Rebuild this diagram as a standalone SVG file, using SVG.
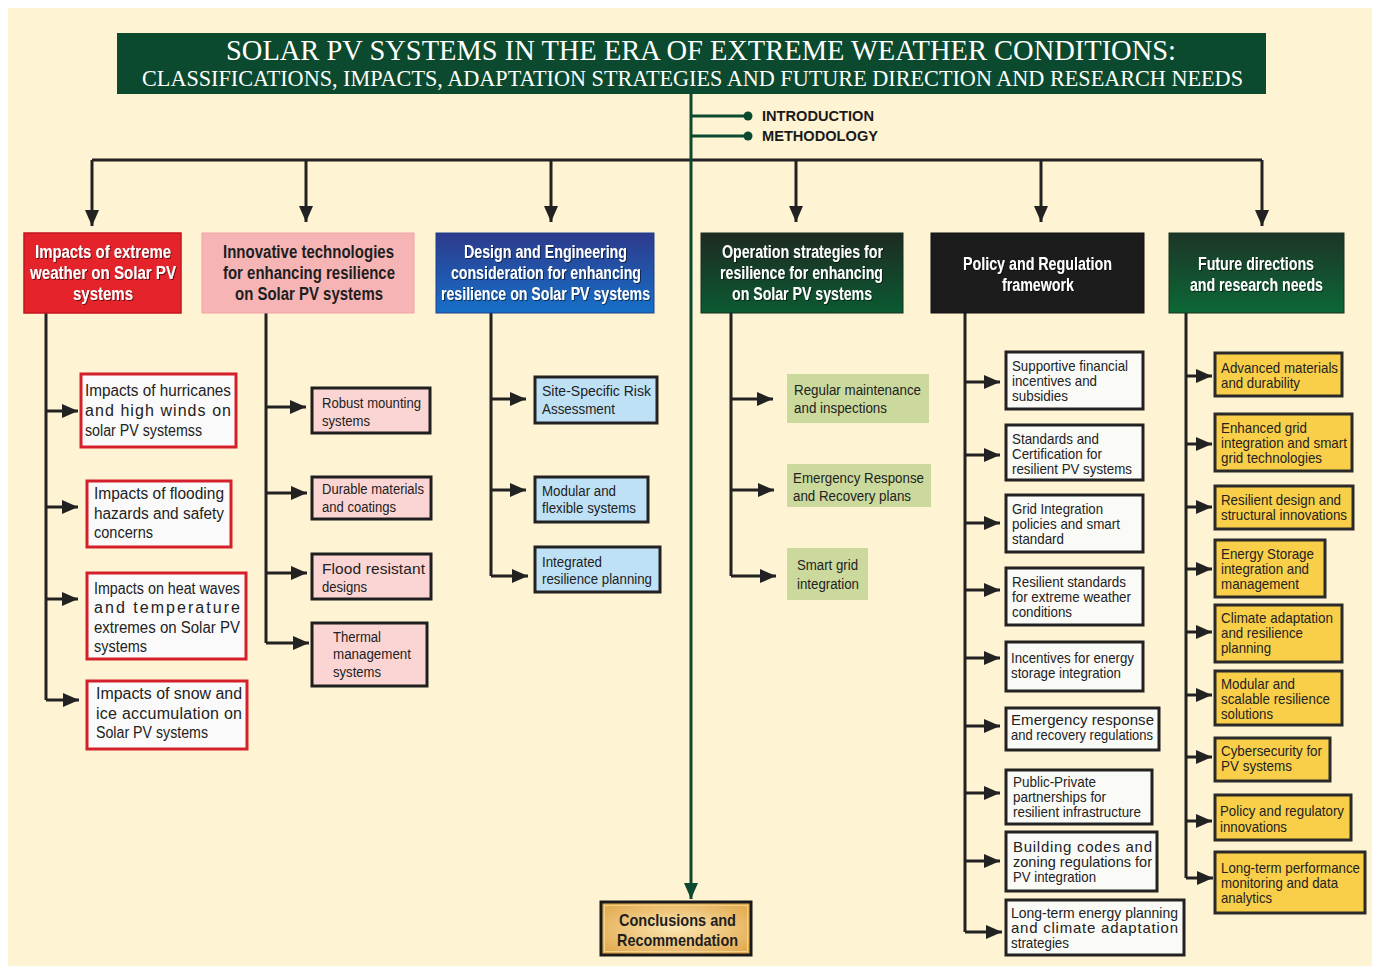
<svg xmlns="http://www.w3.org/2000/svg" width="1380" height="971" viewBox="0 0 1380 971">
  <defs>
    <marker id="arr" markerUnits="userSpaceOnUse" markerWidth="17" markerHeight="14" refX="16" refY="7" orient="auto">
      <path d="M0,0 L16,7 L0,14 Z" fill="#222"/>
    </marker>
    <marker id="arrG" markerUnits="userSpaceOnUse" markerWidth="17" markerHeight="14" refX="16" refY="7" orient="auto">
      <path d="M0,0 L16,7 L0,14 Z" fill="#0b4a2e"/>
    </marker>
    <linearGradient id="gBlue" x1="0" y1="0" x2="0" y2="1">
      <stop offset="0" stop-color="#2d3a8c"/>
      <stop offset="1" stop-color="#1670c8"/>
    </linearGradient>
    <linearGradient id="gOps" x1="0" y1="0" x2="0" y2="1">
      <stop offset="0" stop-color="#1f2a22"/>
      <stop offset="1" stop-color="#0b5a32"/>
    </linearGradient>
    <linearGradient id="gFut" x1="0" y1="0" x2="0" y2="1">
      <stop offset="0" stop-color="#1d3527"/>
      <stop offset="1" stop-color="#0c6837"/>
    </linearGradient>
    <radialGradient id="gGold" cx="0.5" cy="0.5" r="0.6">
      <stop offset="0" stop-color="#fbe6b2"/>
      <stop offset="1" stop-color="#e3ac52"/>
    </radialGradient>
    <filter id="sh" x="-5%" y="-20%" width="110%" height="140%">
      <feDropShadow dx="1" dy="1" stdDeviation="0.7" flood-color="#000" flood-opacity="0.55"/>
    </filter>
    <style>
      .hd { font-family: "Liberation Sans", Arial, sans-serif; font-size: 18px; font-weight: bold; }
      .hw { fill: #ffffff; filter: url(#sh); }
      .hk { fill: #1e1e1e; }
      .t16 { font-family: "Liberation Sans", Arial, sans-serif; font-size: 16px; fill: #222; }
      .t15 { font-family: "Liberation Sans", Arial, sans-serif; font-size: 15.5px; fill: #222; }
      .t14 { font-family: "Liberation Sans", Arial, sans-serif; font-size: 15px; fill: #222; }
      .ln { stroke: #222; stroke-width: 3; fill: none; }
      .bx { stroke-width: 3; }
      .red { fill: #fbfafa; stroke: #d3202a; }
      .pink { fill: #fbd5d3; stroke: #1f1f1f; }
      .blue { fill: #bfe1f6; stroke: #222; }
      .lg { fill: #cbda9c; stroke: none; }
      .wh { fill: #fafaf7; stroke: #222; }
      .yl { fill: #f9cf4a; stroke: #2a2a2a; }
    </style>
  </defs>

  <!-- page -->
  <rect x="0" y="0" width="1380" height="971" fill="#ffffff"/>
  <rect x="8" y="8" width="1364" height="958" fill="#fef3d3"/>

  <!-- title banner -->
  <g id="title">
    <rect x="117" y="33" width="1149" height="61" fill="#0b4a2e"/>
    <text x="226" y="60" textLength="950" lengthAdjust="spacingAndGlyphs" font-family="Liberation Serif, 'Times New Roman', serif" font-size="30" fill="#fff">SOLAR PV SYSTEMS IN THE ERA OF EXTREME WEATHER CONDITIONS:</text>
    <text x="142" y="86" textLength="1101" lengthAdjust="spacingAndGlyphs" font-family="Liberation Serif, 'Times New Roman', serif" font-size="24" fill="#fff">CLASSIFICATIONS, IMPACTS, ADAPTATION STRATEGIES AND FUTURE DIRECTION AND RESEARCH NEEDS</text>
  </g>

  <!-- connectors -->
  <g id="connectors">
    <!-- bus to the six themes -->
    <path class="ln" d="M92,160 H1262" stroke-width="2.5"/>
    <path class="ln" d="M92,160 V226" stroke-width="2.5" marker-end="url(#arr)"/>
    <path class="ln" d="M306,160 V222" stroke-width="2.5" marker-end="url(#arr)"/>
    <path class="ln" d="M551,160 V222" stroke-width="2.5" marker-end="url(#arr)"/>
    <path class="ln" d="M796,160 V222" stroke-width="2.5" marker-end="url(#arr)"/>
    <path class="ln" d="M1041,160 V222" stroke-width="2.5" marker-end="url(#arr)"/>
    <path class="ln" d="M1262,160 V226" stroke-width="2.5" marker-end="url(#arr)"/>

    <!-- main trunk -->
    <path d="M691,94 V899" stroke="#0b4a2e" stroke-width="3" fill="none" marker-end="url(#arrG)"/>
    <path d="M691,116 H746 M691,136 H746" stroke="#0b4a2e" stroke-width="3" fill="none"/>
    <circle cx="748" cy="116" r="4.5" fill="#0b4a2e"/>
    <circle cx="748" cy="136" r="4.5" fill="#0b4a2e"/>

    <!-- column 1 -->
    <path class="ln" d="M46,313 V700"/>
    <path class="ln" d="M46,411 H78" marker-end="url(#arr)"/>
    <path class="ln" d="M46,507 H78" marker-end="url(#arr)"/>
    <path class="ln" d="M46,599 H78" marker-end="url(#arr)"/>
    <path class="ln" d="M46,700 H79" marker-end="url(#arr)"/>

    <!-- column 2 -->
    <path class="ln" d="M266,313 V643"/>
    <path class="ln" d="M266,407 H306" marker-end="url(#arr)"/>
    <path class="ln" d="M266,493 H307" marker-end="url(#arr)"/>
    <path class="ln" d="M266,573 H307" marker-end="url(#arr)"/>
    <path class="ln" d="M266,643 H309" marker-end="url(#arr)"/>

    <!-- column 3 -->
    <path class="ln" d="M491,313 V576"/>
    <path class="ln" d="M491,399 H526" marker-end="url(#arr)"/>
    <path class="ln" d="M491,490 H526" marker-end="url(#arr)"/>
    <path class="ln" d="M491,576 H528" marker-end="url(#arr)"/>

    <!-- column 4 -->
    <path class="ln" d="M731,313 V576"/>
    <path class="ln" d="M731,399 H773" marker-end="url(#arr)"/>
    <path class="ln" d="M731,490 H774" marker-end="url(#arr)"/>
    <path class="ln" d="M731,576 H776" marker-end="url(#arr)"/>

    <!-- column 5 -->
    <path class="ln" d="M965,313 V932"/>
    <path class="ln" d="M965,382 H1000" marker-end="url(#arr)"/>
    <path class="ln" d="M965,455 H1000" marker-end="url(#arr)"/>
    <path class="ln" d="M965,523 H1000" marker-end="url(#arr)"/>
    <path class="ln" d="M965,590 H1000" marker-end="url(#arr)"/>
    <path class="ln" d="M965,658 H1000" marker-end="url(#arr)"/>
    <path class="ln" d="M965,726 H1000" marker-end="url(#arr)"/>
    <path class="ln" d="M965,793 H1000" marker-end="url(#arr)"/>
    <path class="ln" d="M965,861 H1000" marker-end="url(#arr)"/>
    <path class="ln" d="M965,932 H1002" marker-end="url(#arr)"/>

    <!-- column 6 -->
    <path class="ln" d="M1186,313 V878"/>
    <path class="ln" d="M1186,376 H1212" marker-end="url(#arr)"/>
    <path class="ln" d="M1186,444 H1212" marker-end="url(#arr)"/>
    <path class="ln" d="M1186,507 H1212" marker-end="url(#arr)"/>
    <path class="ln" d="M1186,569 H1212" marker-end="url(#arr)"/>
    <path class="ln" d="M1186,632 H1212" marker-end="url(#arr)"/>
    <path class="ln" d="M1186,695 H1212" marker-end="url(#arr)"/>
    <path class="ln" d="M1186,757 H1212" marker-end="url(#arr)"/>
    <path class="ln" d="M1186,821 H1212" marker-end="url(#arr)"/>
    <path class="ln" d="M1186,878 H1213" marker-end="url(#arr)"/>
  </g>

  <!-- intro items -->
  <g id="intro" font-family="Liberation Sans, Arial, sans-serif" font-size="14" font-weight="bold" fill="#1a1a1a">
    <text x="762" y="121" textLength="112" lengthAdjust="spacingAndGlyphs">INTRODUCTION</text>
    <text x="762" y="141" textLength="116" lengthAdjust="spacingAndGlyphs">METHODOLOGY</text>
  </g>

  <!-- theme headers -->
  <g id="h-impacts">
    <rect x="24" y="233" width="157" height="80" fill="#e4232b" stroke="#c4161f" stroke-width="1.5"/>
    <g class="hd hw">
      <text x="35" y="257.5" textLength="136" lengthAdjust="spacingAndGlyphs">Impacts of extreme</text>
      <text x="30" y="278.5" textLength="146" lengthAdjust="spacingAndGlyphs">weather on Solar PV</text>
      <text x="73" y="299.5" textLength="60" lengthAdjust="spacingAndGlyphs">systems</text>
    </g>
  </g>
  <g id="h-innovative">
    <rect x="202" y="233" width="212" height="80" fill="#f7b4b5" stroke="#eea3a5" stroke-width="1"/>
    <g class="hd hk">
      <text x="223" y="257.5" textLength="171" lengthAdjust="spacingAndGlyphs">Innovative technologies</text>
      <text x="223" y="278.5" textLength="172" lengthAdjust="spacingAndGlyphs">for enhancing resilience</text>
      <text x="235" y="299.5" textLength="148" lengthAdjust="spacingAndGlyphs">on Solar PV systems</text>
    </g>
  </g>
  <g id="h-design">
    <rect x="436" y="233" width="218" height="80" fill="url(#gBlue)" stroke="#1e3f8a" stroke-width="1"/>
    <g class="hd hw">
      <text x="464" y="257.5" textLength="163" lengthAdjust="spacingAndGlyphs">Design and Engineering</text>
      <text x="451" y="278.5" textLength="190" lengthAdjust="spacingAndGlyphs">consideration for enhancing</text>
      <text x="441" y="299.5" textLength="209" lengthAdjust="spacingAndGlyphs">resilience on Solar PV systems</text>
    </g>
  </g>
  <g id="h-operation">
    <rect x="701" y="233" width="202" height="80" fill="url(#gOps)" stroke="#15301f" stroke-width="1"/>
    <g class="hd hw">
      <text x="722" y="257.5" textLength="161" lengthAdjust="spacingAndGlyphs">Operation strategies for</text>
      <text x="720" y="278.5" textLength="163" lengthAdjust="spacingAndGlyphs">resilience for enhancing</text>
      <text x="732" y="299.5" textLength="140" lengthAdjust="spacingAndGlyphs">on Solar PV systems</text>
    </g>
  </g>
  <g id="h-policy">
    <rect x="931" y="233" width="213" height="80" fill="#1c1c1c" stroke="#111" stroke-width="1"/>
    <g class="hd hw">
      <text x="963" y="269.5" textLength="149" lengthAdjust="spacingAndGlyphs">Policy and Regulation</text>
      <text x="1002" y="290.5" textLength="72" lengthAdjust="spacingAndGlyphs">framework</text>
    </g>
  </g>
  <g id="h-future">
    <rect x="1169" y="233" width="175" height="80" fill="url(#gFut)" stroke="#17321f" stroke-width="1"/>
    <g class="hd hw">
      <text x="1198" y="269.5" textLength="116" lengthAdjust="spacingAndGlyphs">Future directions</text>
      <text x="1190" y="290.5" textLength="133" lengthAdjust="spacingAndGlyphs">and research needs</text>
    </g>
  </g>

  <!-- column 1: impacts -->
  <g id="n-hurricanes">
    <rect class="bx red" x="81" y="374" width="155" height="73"/>
    <g class="t16">
      <text x="85" y="396" textLength="146" lengthAdjust="spacingAndGlyphs">Impacts of hurricanes</text>
      <text x="85" y="416" textLength="146" lengthAdjust="spacing">and high winds on</text>
      <text x="85" y="436" textLength="117" lengthAdjust="spacingAndGlyphs">solar PV systemss</text>
    </g>
  </g>
  <g id="n-flooding">
    <rect class="bx red" x="87" y="481" width="144" height="66"/>
    <g class="t16">
      <text x="94" y="499" textLength="130" lengthAdjust="spacingAndGlyphs">Impacts of flooding</text>
      <text x="94" y="519" textLength="130" lengthAdjust="spacingAndGlyphs">hazards and safety</text>
      <text x="94" y="538" textLength="59" lengthAdjust="spacingAndGlyphs">concerns</text>
    </g>
  </g>
  <g id="n-heat">
    <rect class="bx red" x="87" y="573" width="159" height="86"/>
    <g class="t16">
      <text x="94" y="594" textLength="146" lengthAdjust="spacingAndGlyphs">Impacts on heat waves</text>
      <text x="94" y="613" textLength="146" lengthAdjust="spacing">and temperature</text>
      <text x="94" y="633" textLength="146" lengthAdjust="spacingAndGlyphs">extremes on Solar PV</text>
      <text x="94" y="652" textLength="53" lengthAdjust="spacingAndGlyphs">systems</text>
    </g>
  </g>
  <g id="n-snow">
    <rect class="bx red" x="87" y="681" width="160" height="68"/>
    <g class="t16">
      <text x="96" y="699" textLength="146" lengthAdjust="spacingAndGlyphs">Impacts of snow and</text>
      <text x="96" y="719" textLength="146" lengthAdjust="spacing">ice accumulation on</text>
      <text x="96" y="738" textLength="112" lengthAdjust="spacingAndGlyphs">Solar PV systems</text>
    </g>
  </g>

  <!-- column 2: innovative technologies -->
  <g id="n-mounting">
    <rect class="bx pink" x="312" y="388" width="118" height="45"/>
    <g class="t15">
      <text x="322" y="407.5" textLength="99" lengthAdjust="spacingAndGlyphs">Robust mounting</text>
      <text x="322" y="425.5" textLength="48" lengthAdjust="spacingAndGlyphs">systems</text>
    </g>
  </g>
  <g id="n-durable">
    <rect class="bx pink" x="312" y="477" width="119" height="42"/>
    <g class="t15">
      <text x="322" y="493.5" textLength="102" lengthAdjust="spacingAndGlyphs">Durable materials</text>
      <text x="322" y="511.5" textLength="74" lengthAdjust="spacingAndGlyphs">and coatings</text>
    </g>
  </g>
  <g id="n-flood">
    <rect class="bx pink" x="312" y="554" width="119" height="45"/>
    <g class="t15">
      <text x="322" y="573.5" textLength="103" lengthAdjust="spacing">Flood resistant</text>
      <text x="322" y="591.5" textLength="45" lengthAdjust="spacingAndGlyphs">designs</text>
    </g>
  </g>
  <g id="n-thermal">
    <rect class="bx pink" x="312" y="623" width="115" height="63"/>
    <g class="t15">
      <text x="333" y="641.5" textLength="48" lengthAdjust="spacingAndGlyphs">Thermal</text>
      <text x="333" y="658.5" textLength="78" lengthAdjust="spacingAndGlyphs">management</text>
      <text x="333" y="676.5" textLength="48" lengthAdjust="spacingAndGlyphs">systems</text>
    </g>
  </g>

  <!-- column 3: design and engineering -->
  <g id="n-risk">
    <rect class="bx blue" x="535" y="377" width="122" height="46"/>
    <g class="t15">
      <text x="542" y="395.5" textLength="109" lengthAdjust="spacingAndGlyphs">Site-Specific  Risk</text>
      <text x="542" y="413.5" textLength="73" lengthAdjust="spacingAndGlyphs">Assessment</text>
    </g>
  </g>
  <g id="n-modular">
    <rect class="bx blue" x="535" y="477" width="113" height="45"/>
    <g class="t15">
      <text x="542" y="495.5" textLength="74" lengthAdjust="spacingAndGlyphs">Modular and</text>
      <text x="542" y="512.5" textLength="94" lengthAdjust="spacingAndGlyphs">flexible systems</text>
    </g>
  </g>
  <g id="n-integrated">
    <rect class="bx blue" x="535" y="547" width="125" height="45"/>
    <g class="t15">
      <text x="542" y="566.5" textLength="60" lengthAdjust="spacingAndGlyphs">Integrated</text>
      <text x="542" y="583.5" textLength="110" lengthAdjust="spacingAndGlyphs">resilience planning</text>
    </g>
  </g>

  <!-- column 4: operation -->
  <g id="n-maintenance">
    <rect class="lg" x="787" y="374" width="142" height="49"/>
    <g class="t15">
      <text x="794" y="394.5" textLength="127" lengthAdjust="spacingAndGlyphs">Regular maintenance</text>
      <text x="794" y="412.5" textLength="93" lengthAdjust="spacingAndGlyphs">and inspections</text>
    </g>
  </g>
  <g id="n-emergency">
    <rect class="lg" x="787" y="464" width="144" height="43"/>
    <g class="t15">
      <text x="793" y="482.5" textLength="131" lengthAdjust="spacingAndGlyphs">Emergency Response</text>
      <text x="793" y="500.5" textLength="118" lengthAdjust="spacingAndGlyphs">and Recovery plans</text>
    </g>
  </g>
  <g id="n-smartgrid">
    <rect class="lg" x="787" y="548" width="81" height="52"/>
    <g class="t15">
      <text x="797" y="569.5" textLength="61" lengthAdjust="spacingAndGlyphs">Smart grid</text>
      <text x="797" y="588.5" textLength="62" lengthAdjust="spacingAndGlyphs">integration</text>
    </g>
  </g>

  <!-- column 5: policy and regulation -->
  <g id="n-financial">
    <rect class="bx wh" x="1006" y="352" width="137" height="57"/>
    <g class="t14">
      <text x="1012" y="370.5" textLength="116" lengthAdjust="spacingAndGlyphs">Supportive financial</text>
      <text x="1012" y="385.5" textLength="85" lengthAdjust="spacingAndGlyphs">incentives and</text>
      <text x="1012" y="400.5" textLength="56" lengthAdjust="spacingAndGlyphs">subsidies</text>
    </g>
  </g>
  <g id="n-standards">
    <rect class="bx wh" x="1006" y="425" width="137" height="55"/>
    <g class="t14">
      <text x="1012" y="443.5" textLength="87" lengthAdjust="spacingAndGlyphs">Standards and</text>
      <text x="1012" y="458.5" textLength="90" lengthAdjust="spacingAndGlyphs">Certification for</text>
      <text x="1012" y="473.5" textLength="120" lengthAdjust="spacingAndGlyphs">resilient PV systems</text>
    </g>
  </g>
  <g id="n-gridpolicy">
    <rect class="bx wh" x="1006" y="495" width="137" height="57"/>
    <g class="t14">
      <text x="1012" y="513.5" textLength="91" lengthAdjust="spacingAndGlyphs">Grid Integration</text>
      <text x="1012" y="528.5" textLength="108" lengthAdjust="spacingAndGlyphs">policies and smart</text>
      <text x="1012" y="544" textLength="52" lengthAdjust="spacingAndGlyphs">standard</text>
    </g>
  </g>
  <g id="n-resilientstd">
    <rect class="bx wh" x="1006" y="568" width="137" height="57"/>
    <g class="t14">
      <text x="1012" y="586.5" textLength="114" lengthAdjust="spacingAndGlyphs">Resilient standards</text>
      <text x="1012" y="601.5" textLength="119" lengthAdjust="spacingAndGlyphs">for extreme weather</text>
      <text x="1012" y="617" textLength="60" lengthAdjust="spacingAndGlyphs">conditions</text>
    </g>
  </g>
  <g id="n-storageinc">
    <rect class="bx wh" x="1006" y="642" width="137" height="49"/>
    <g class="t14">
      <text x="1011" y="662.5" textLength="123" lengthAdjust="spacingAndGlyphs">Incentives for energy</text>
      <text x="1011" y="677.5" textLength="110" lengthAdjust="spacingAndGlyphs">storage integration</text>
    </g>
  </g>
  <g id="n-emergencyreg">
    <rect class="bx wh" x="1006" y="708" width="153" height="42"/>
    <g class="t14">
      <text x="1011" y="724.5" textLength="143" lengthAdjust="spacing">Emergency  response</text>
      <text x="1011" y="739.5" textLength="142" lengthAdjust="spacingAndGlyphs">and recovery regulations</text>
    </g>
  </g>
  <g id="n-ppp">
    <rect class="bx wh" x="1006" y="770" width="146" height="54"/>
    <g class="t14">
      <text x="1013" y="787" textLength="83" lengthAdjust="spacingAndGlyphs">Public-Private</text>
      <text x="1013" y="802" textLength="93" lengthAdjust="spacingAndGlyphs">partnerships for</text>
      <text x="1013" y="817" textLength="128" lengthAdjust="spacingAndGlyphs">resilient infrastructure</text>
    </g>
  </g>
  <g id="n-building">
    <rect class="bx wh" x="1006" y="832" width="151" height="59"/>
    <g class="t14">
      <text x="1013" y="851.5" textLength="139" lengthAdjust="spacing">Building codes and</text>
      <text x="1013" y="866.5" textLength="139" lengthAdjust="spacingAndGlyphs">zoning regulations for</text>
      <text x="1013" y="881.5" textLength="83" lengthAdjust="spacingAndGlyphs">PV integration</text>
    </g>
  </g>
  <g id="n-longterm">
    <rect class="bx wh" x="1006" y="900" width="178" height="55"/>
    <g class="t14">
      <text x="1011" y="917.5" textLength="167" lengthAdjust="spacingAndGlyphs">Long-term energy planning</text>
      <text x="1011" y="932.5" textLength="167" lengthAdjust="spacing">and climate adaptation</text>
      <text x="1011" y="947.5" textLength="58" lengthAdjust="spacingAndGlyphs">strategies</text>
    </g>
  </g>

  <!-- column 6: future directions -->
  <g id="n-advanced">
    <rect class="bx yl" x="1215" y="353" width="127" height="43"/>
    <g class="t14">
      <text x="1221" y="372.5" textLength="117" lengthAdjust="spacingAndGlyphs">Advanced materials</text>
      <text x="1221" y="387.5" textLength="79" lengthAdjust="spacingAndGlyphs">and durability</text>
    </g>
  </g>
  <g id="n-enhanced">
    <rect class="bx yl" x="1215" y="414" width="137" height="57"/>
    <g class="t14">
      <text x="1221" y="432.5" textLength="86" lengthAdjust="spacingAndGlyphs">Enhanced grid</text>
      <text x="1221" y="447.5" textLength="126" lengthAdjust="spacingAndGlyphs">integration and smart</text>
      <text x="1221" y="462.5" textLength="101" lengthAdjust="spacingAndGlyphs">grid technologies</text>
    </g>
  </g>
  <g id="n-structural">
    <rect class="bx yl" x="1215" y="486" width="138" height="43"/>
    <g class="t14">
      <text x="1221" y="504.5" textLength="120" lengthAdjust="spacingAndGlyphs">Resilient design and</text>
      <text x="1221" y="519.5" textLength="126" lengthAdjust="spacingAndGlyphs">structural innovations</text>
    </g>
  </g>
  <g id="n-storage">
    <rect class="bx yl" x="1215" y="540" width="110" height="57"/>
    <g class="t14">
      <text x="1221" y="558.5" textLength="93" lengthAdjust="spacingAndGlyphs">Energy Storage</text>
      <text x="1221" y="573.5" textLength="88" lengthAdjust="spacingAndGlyphs">integration and</text>
      <text x="1221" y="588.5" textLength="78" lengthAdjust="spacingAndGlyphs">management</text>
    </g>
  </g>
  <g id="n-climate">
    <rect class="bx yl" x="1215" y="605" width="127" height="57"/>
    <g class="t14">
      <text x="1221" y="622.5" textLength="112" lengthAdjust="spacingAndGlyphs">Climate adaptation</text>
      <text x="1221" y="637.5" textLength="82" lengthAdjust="spacingAndGlyphs">and resilience</text>
      <text x="1221" y="652.5" textLength="50" lengthAdjust="spacingAndGlyphs">planning</text>
    </g>
  </g>
  <g id="n-scalable">
    <rect class="bx yl" x="1215" y="671" width="127" height="54"/>
    <g class="t14">
      <text x="1221" y="688.5" textLength="74" lengthAdjust="spacingAndGlyphs">Modular and</text>
      <text x="1221" y="703.5" textLength="109" lengthAdjust="spacingAndGlyphs">scalable resilience</text>
      <text x="1221" y="718.5" textLength="52" lengthAdjust="spacingAndGlyphs">solutions</text>
    </g>
  </g>
  <g id="n-cyber">
    <rect class="bx yl" x="1215" y="738" width="115" height="43"/>
    <g class="t14">
      <text x="1221" y="755.5" textLength="101" lengthAdjust="spacingAndGlyphs">Cybersecurity for</text>
      <text x="1221" y="770.5" textLength="71" lengthAdjust="spacingAndGlyphs">PV systems</text>
    </g>
  </g>
  <g id="n-regulatory">
    <rect class="bx yl" x="1215" y="795" width="136" height="45"/>
    <g class="t14">
      <text x="1220" y="815.5" textLength="124" lengthAdjust="spacingAndGlyphs">Policy and regulatory</text>
      <text x="1220" y="831.5" textLength="67" lengthAdjust="spacingAndGlyphs">innovations</text>
    </g>
  </g>
  <g id="n-monitoring">
    <rect class="bx yl" x="1215" y="852" width="150" height="61"/>
    <g class="t14">
      <text x="1221" y="872.5" textLength="139" lengthAdjust="spacingAndGlyphs">Long-term performance</text>
      <text x="1221" y="887.5" textLength="117" lengthAdjust="spacingAndGlyphs">monitoring and data</text>
      <text x="1221" y="902.5" textLength="51" lengthAdjust="spacingAndGlyphs">analytics</text>
    </g>
  </g>

  <!-- closing section -->
  <g id="n-conclusions">
    <rect x="601" y="902" width="150" height="53" fill="url(#gGold)" stroke="#1a1a1a" stroke-width="3"/>
    <rect x="604.5" y="905.5" width="143" height="46" fill="none" stroke="#f3d28a" stroke-width="1"/>
    <g font-family="Liberation Sans, Arial, sans-serif" font-size="17" font-weight="bold" fill="#1e1e1e">
      <text x="619" y="926" textLength="117" lengthAdjust="spacingAndGlyphs">Conclusions and</text>
      <text x="617" y="946" textLength="121" lengthAdjust="spacingAndGlyphs">Recommendation</text>
    </g>
  </g>
</svg>
